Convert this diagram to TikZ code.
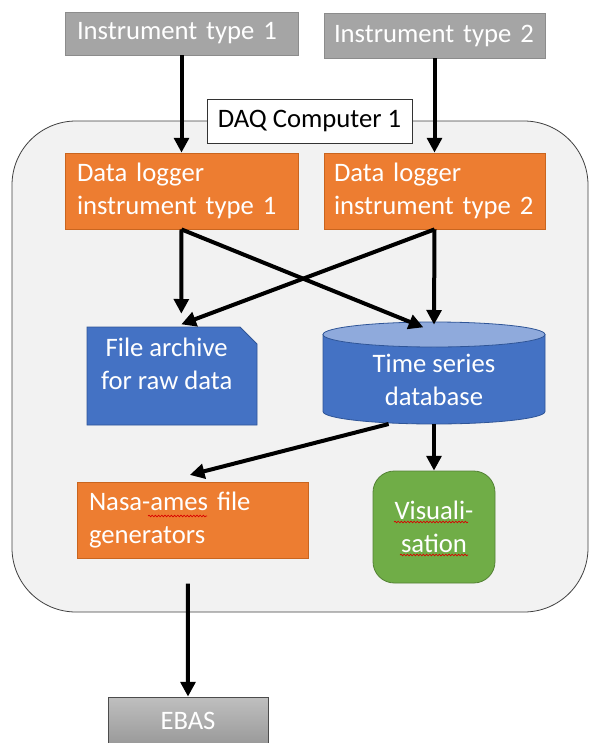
\documentclass[tikz,border=0pt]{standalone}
\usepackage{fontspec}
\setmainfont{Carlito}
\usetikzlibrary{arrows.meta,decorations.pathmorphing}

\definecolor{instgray}{HTML}{A5A5A5}
\definecolor{instedge}{HTML}{8C8C8C}
\definecolor{orangefill}{HTML}{ED7D31}
\definecolor{orangeedge}{HTML}{C9651F}
\definecolor{dbblue}{HTML}{4472C4}
\definecolor{dbtop}{HTML}{8FAADC}
\definecolor{dbedge}{HTML}{2F5597}
\definecolor{visgreen}{HTML}{70AD47}
\definecolor{visedge}{HTML}{548235}
\definecolor{framegray}{HTML}{F2F2F2}

\tikzset{
  boxtext/.style={align=center, text=white, font=\fontsize{20pt}{24.75pt}\selectfont},
  box/.style={draw, line width=0.6pt, inner xsep=9pt, align=left, text=white,
    font=\fontsize{20pt}{24.75pt}\selectfont},
  inst/.style={box, fill=instgray, draw=instedge},
  logger/.style={box, fill=orangefill, draw=orangeedge},
  vis/.style={boxtext, draw=visedge, fill=visgreen, line width=0.6pt, rounded corners=16pt},
  ebas/.style={boxtext, draw=black!70, line width=0.6pt, top color=gray!50, bottom color=gray!80},
  frame/.style={draw=black!75, fill=framegray, line width=0.6pt, rounded corners=48pt},
  tag/.style={draw=black!80, fill=white, line width=0.6pt, font=\fontsize{20pt}{24.75pt}\selectfont},
  flow/.style={line width=3pt, -{Triangle[length=11pt,width=11pt]}},
  spell/.style={draw=red!85!black, line width=0.5pt,
    decorate, decoration={snake, amplitude=0.6pt, segment length=2.4pt}},
}

\begin{document}
\begin{tikzpicture}[x=0.75pt, y=-0.75pt]
    \useasboundingbox (0,0) rectangle (592,743);

    \node[frame, minimum width=432pt, minimum height=368.25pt] (computer) at (300,366.5) {};
    \node[tag, minimum width=153.75pt, minimum height=33pt] (daq) at (309.5,121) {DAQ Computer 1};

    \node[inst, text width=156.75pt, minimum height=32.25pt] (instA) at (181.5,33.5) {Instrument type 1};
    \node[inst, inner xsep=7.5pt, text width=150.75pt, minimum height=33.75pt] (instB) at (434.5,35.5) {Instrument type 2};
    \node[logger, text width=156.75pt, minimum height=57pt] (loggerA) at (181.5,191) {Data logger\\instrument type 1};
    \node[logger, inner xsep=7.5pt, text width=150.75pt, minimum height=57pt] (loggerB) at (434.5,191) {Data logger\\instrument type 2};

    % file archive, page with a folded corner
    \node[outer sep=0pt, minimum width=127.5pt, minimum height=73.5pt] (archive) at (172,376) {};
    \filldraw[fill=dbblue, draw=dbedge, line width=0.6pt] (archive.south west) -- (archive.north west)
        -- ([xshift=-12.75pt]archive.north east) -- ([yshift=-12.75pt]archive.north east)
        -- (archive.south east) -- cycle;
    \node[boxtext] (archivetext) at ([xshift=-4pt,yshift=9pt]archive.center) {File archive\\for raw data};

    % database cylinder
    \node[outer sep=0pt, minimum width=166.5pt, minimum height=76.5pt] (tsdb) at (434,373) {};
    \filldraw[fill=dbblue, draw=dbedge, line width=0.6pt] ([yshift=-9.375pt]tsdb.north west)
        -- ([yshift=9.375pt]tsdb.south west)
        arc[start angle=180, end angle=360, x radius=83.25pt, y radius=9.375pt]
        -- ([yshift=-9.375pt]tsdb.north east) -- cycle;
    \filldraw[fill=dbtop, draw=dbedge, line width=0.6pt] ([yshift=-9.375pt]tsdb.north)
        ellipse [x radius=83.25pt, y radius=9.375pt];
    \node[boxtext] (tsdbtext) at ([yshift=-5pt]tsdb.center) {Time series\\database};

    \node[logger, text width=155.25pt, minimum height=57pt] (nasa) at (192.5,520) {Nasa-ames file\\generators};
    \node[vis, minimum width=91.5pt, minimum height=84pt] (vis) at (434,527) {Visuali-\\sation};
    \node[ebas, minimum width=120pt, minimum height=36pt] (ebas) at (188,721) {EBAS};

    % spell check marks
    \draw[spell] (148,516) -- (207,516);
    \draw[spell] (394,522) -- (468,522);
    \draw[spell] (400,555) -- (468,555);

    \draw[flow] (instA) -- (loggerA);
    \draw[flow] (instB) -- (loggerB);
    \draw[flow] (loggerA.south) -- ([xshift=7pt,yshift=10pt]archive.north);
    \draw[flow] (loggerA.south) -- ([xshift=-8pt,yshift=-4pt]tsdb.north);
    \draw[flow] (loggerB.south) -- ([xshift=7pt,yshift=2pt]archive.north);
    \draw[flow] (loggerB.south) -- ([yshift=-2pt]tsdb.north);
    \draw[flow] ([xshift=-34pt]tsdb.south) -- ([xshift=-2pt,yshift=5pt]nasa.north);
    \draw[flow] (tsdb.south) -- (vis.north);
    \draw[flow] ([xshift=-3.4pt,yshift=-19pt]nasa.south) -- (ebas.north);
\end{tikzpicture}
\end{document}
